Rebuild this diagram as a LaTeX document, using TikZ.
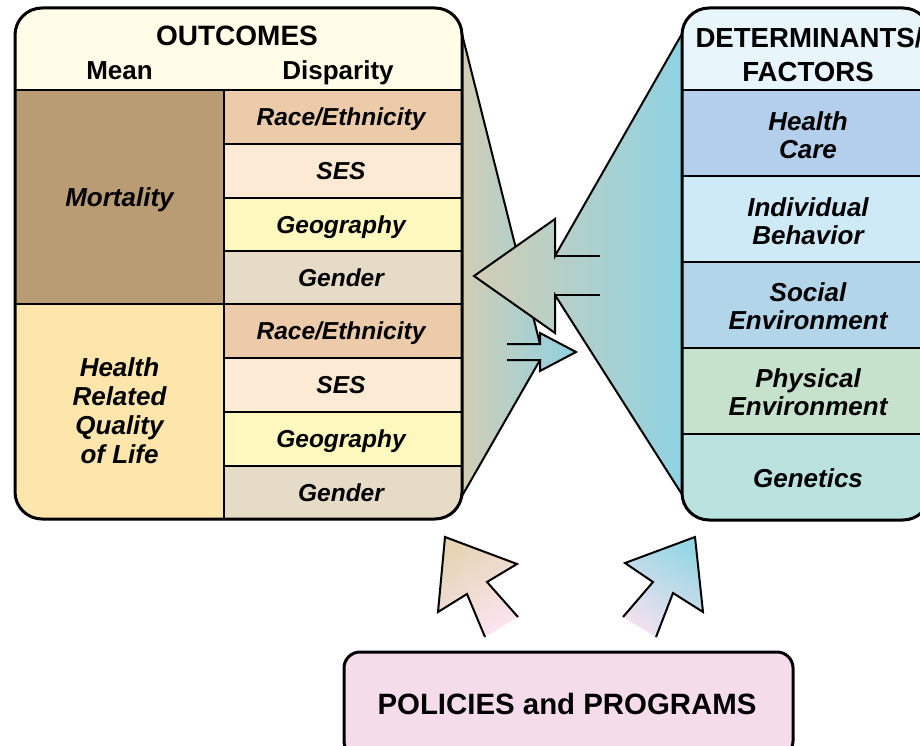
\documentclass[tikz,border=0pt]{standalone}
\usepackage{fontspec}
\setmainfont{Liberation Sans}
\definecolor{hdrL}{HTML}{FFFDE7}
\definecolor{mort}{HTML}{B99B74}
\definecolor{hrq}{HTML}{FDE5AC}
\definecolor{race}{HTML}{ECCBAA}
\definecolor{ses}{HTML}{FDEAD4}
\definecolor{geo}{HTML}{FEF8BE}
\definecolor{gend}{HTML}{E5DBC6}
\definecolor{hdrR}{HTML}{E8F5FB}
\definecolor{hc}{HTML}{B4CFEB}
\definecolor{ib}{HTML}{CDEAF6}
\definecolor{se}{HTML}{B3D5E9}
\definecolor{pe}{HTML}{C7E2CC}
\definecolor{gen}{HTML}{BAE3E0}
\definecolor{pol}{HTML}{F5DCEA}
\definecolor{gradL}{HTML}{D3CDB4}
\definecolor{gradR}{HTML}{8FD2E2}
\definecolor{tanA}{HTML}{E6D4B4}
\definecolor{pinkA}{HTML}{FBE4EF}
\definecolor{blueA}{HTML}{96D6E4}
\definecolor{pinkB}{HTML}{F2E0EF}
\begin{document}
\begin{tikzpicture}[x=1pt,y=-1pt,
  lbl/.style={font=\fontsize{24.5}{29}\selectfont\bfseries\itshape, align=center, inner sep=0pt},
  mlbl/.style={font=\fontsize{26}{29}\selectfont\bfseries\itshape, align=center, inner sep=0pt},
  rlbl/.style={font=\fontsize{26}{28}\selectfont\bfseries\itshape, align=center, inner sep=0pt},
  hd/.style={font=\fontsize{#1}{#1}\selectfont\bfseries, inner sep=0pt},
  capbox/.style={text height=#1, text depth=0pt},
  outline/.style={line width=3pt, line join=round},
  sepline/.style={line width=2.2pt},
  fun/.style={line width=2pt, line join=miter},
]
\useasboundingbox (0,0) rectangle (920,746);
\clip (0,0) rectangle (920,746);

% ---------- left funnel with small right-pointing arrow ----------
\shade[left color=gradL, right color=gradR]
  (462,34) -- (540,344) -- (540,333) -- (576,352) -- (540,371) -- (540,360) -- (462,496) -- cycle;
\draw[fun] (462,34) -- (540,344);
\draw[fun] (507,344) -- (540,344) -- (540,333) -- (576,352) -- (540,371) -- (540,360) -- (507,360);
\draw[fun] (540,360) -- (462,496);

% ---------- right funnel with big left-pointing arrow ----------
\shade[left color=gradL, right color=gradR]
  (683,32) -- (555,256) -- (555,219) -- (474,276) -- (555,333) -- (555,295) -- (683,496) -- cycle;
\draw[fun] (683,32) -- (555,256) -- (555,219) -- (474,276) -- (555,333) -- (555,295) -- (683,496);
\draw[fun] (555,256) -- (600,256);
\draw[fun] (555,295) -- (600,295);

% ---------- left panel ----------
\begin{scope}
  \clip[rounded corners=27pt] (15,8) rectangle (462,519);
  \fill[hdrL] (15,8) rectangle (462,90);
  \fill[mort] (15,90) rectangle (224,304);
  \fill[hrq] (15,304) rectangle (224,519);
  \fill[race] (224,90) rectangle (462,144);
  \fill[ses] (224,144) rectangle (462,198);
  \fill[geo] (224,198) rectangle (462,251);
  \fill[gend] (224,251) rectangle (462,304);
  \fill[race] (224,304) rectangle (462,358);
  \fill[ses] (224,358) rectangle (462,412);
  \fill[geo] (224,412) rectangle (462,466);
  \fill[gend] (224,466) rectangle (462,519);
\end{scope}
\draw[sepline] (15,90) -- (462,90);
\draw[sepline] (15,304) -- (462,304);
\draw[sepline] (224,90) -- (224,519);
\foreach \yy in {144,198,251,358,412,466} \draw[sepline] (224,\yy) -- (462,\yy);
\draw[outline, rounded corners=27pt] (15,8) rectangle (462,519);

\node[hd=28, capbox=20pt] (outcomes) at (237,36) {OUTCOMES};
\node[hd=26, capbox=18.5pt] (mean) at (119.5,70) {Mean};
\node[hd=26, capbox=18.5pt] (disp) at (338,70) {Disparity};
\node[mlbl, capbox=18.5pt] (mortality) at (119.5,197) {Mortality};
\node[mlbl] (hrqol) at (119.5,411) {Health\\Related\\Quality\\of Life};
\node[lbl, capbox=17.5pt] (r1) at (341,117) {Race/Ethnicity};
\node[lbl, capbox=17.5pt] (s1) at (341,171) {SES};
\node[lbl, capbox=17.5pt] (g1) at (341,224.5) {Geography};
\node[lbl, capbox=17.5pt] (d1) at (341,277.5) {Gender};
\node[lbl, capbox=17.5pt] (r2) at (341,331) {Race/Ethnicity};
\node[lbl, capbox=17.5pt] (s2) at (341,385) {SES};
\node[lbl, capbox=17.5pt] (g2) at (341,439) {Geography};
\node[lbl, capbox=17.5pt] (d2) at (341,492.5) {Gender};

% ---------- right panel ----------
\begin{scope}
  \clip[rounded corners=27pt] (682,8) rectangle (930,520);
  \fill[hdrR] (682,8) rectangle (930,90);
  \fill[hc] (682,90) rectangle (930,176);
  \fill[ib] (682,176) rectangle (930,262);
  \fill[se] (682,262) rectangle (930,348);
  \fill[pe] (682,348) rectangle (930,434);
  \fill[gen] (682,434) rectangle (930,520);
\end{scope}
\foreach \yy in {90,176,262,348,434} \draw[sepline] (682,\yy) -- (930,\yy);
\draw[outline, rounded corners=27pt] (682,8) rectangle (930,520);

\node[hd=27.6, capbox=19.8pt] (det) at (809,38) {DETERMINANTS/};
\node[hd=27.6, capbox=19.8pt] (fac) at (808,72) {FACTORS};
\node[rlbl] (hcare) at (808,135) {Health\\Care};
\node[rlbl] (indiv) at (808,221) {Individual\\Behavior};
\node[rlbl] (social) at (808,306.5) {Social\\Environment};
\node[rlbl] (phys) at (808,392.5) {Physical\\Environment};
\node[rlbl, capbox=18.5pt] (genet) at (808,478.5) {Genetics};

% ---------- bottom arrows ----------
\shade[top color=tanA, bottom color=pinkA, shading angle=32]
  (445,537) -- (517,564) -- (487,582) -- (518,617) -- (485,637) -- (467,594) -- (438,612) -- cycle;
\draw[fun] (518,617) -- (487,582) -- (517,564) -- (445,537) -- (438,612) -- (467,594) -- (485,637);

\shade[top color=blueA, bottom color=pinkB, shading angle=-32]
  (695,537) -- (625,563) -- (653,582) -- (623,617) -- (656,637) -- (673,593) -- (703,612) -- cycle;
\draw[fun] (623,617) -- (653,582) -- (625,563) -- (695,537) -- (703,612) -- (673,593) -- (656,637);

% ---------- policies box ----------
\draw[outline, fill=pol, rounded corners=16pt] (344,652) rectangle (793,757);
\node[hd=29.4, capbox=21pt] (policies) at (567,704) {POLICIES and PROGRAMS};
\end{tikzpicture}
\end{document}
